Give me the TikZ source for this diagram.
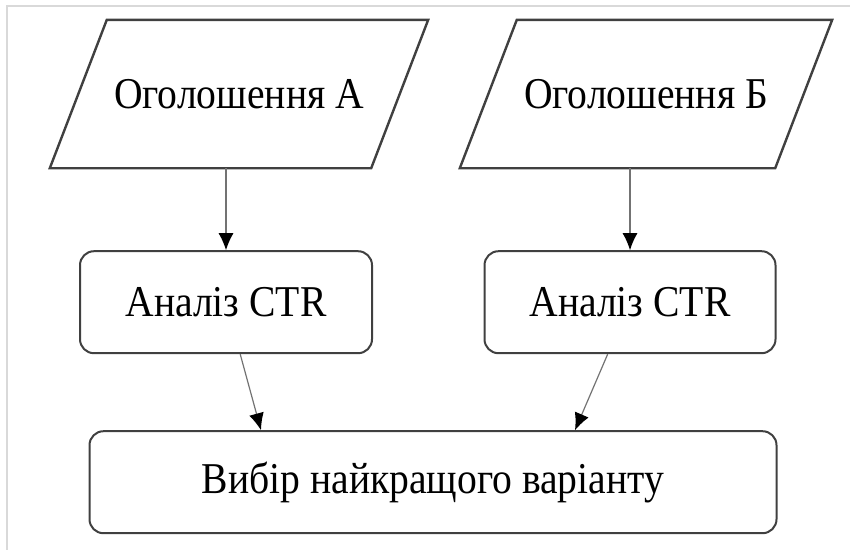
\documentclass[tikz,border=0pt]{standalone}
\usepackage{fontspec}
\setmainfont{Liberation Serif}[FakeStretch=0.9]
\usepackage{tikz}
\usetikzlibrary{shapes.geometric, arrows.meta, positioning}
\tikzstyle{io} = [rectangle, minimum height=148pt, font=\fontsize{44}{48}\selectfont]
\tikzstyle{ioline} = [draw=black!75, line width=2.4pt, line join=miter]
\tikzstyle{block} = [rectangle, rounded corners=14pt, minimum height=102pt, draw=black!75, line width=2pt, fill=white, font=\fontsize{44}{48}\selectfont]
\tikzstyle{arrow} = [black!55, line width=1.2pt, -{Latex[black, length=17pt, width=15pt]}]

\begin{document}
\begin{tikzpicture}[x=1pt, y=1pt]
        \useasboundingbox (0,0) rectangle (850,-550);
        \draw [black!15, line width=1.5pt] (850,-6) -- (7,-6) -- (7,-550);

        \node (parA) [io, minimum width=321pt] at (239,-94) {
            Оголошення А
        };
        \draw [ioline] ([xshift=28.5pt]parA.north west) -- ([xshift=28.5pt]parA.north east)
            -- ([xshift=-28.5pt]parA.south east) -- ([xshift=-28.5pt]parA.south west) -- cycle;

        \node (parB) [io, minimum width=315pt] at (646,-94) {
            Оголошення Б
        };
        \draw [ioline] ([xshift=28.5pt]parB.north west) -- ([xshift=28.5pt]parB.north east)
            -- ([xshift=-28.5pt]parB.south east) -- ([xshift=-28.5pt]parB.south west) -- cycle;

        \node (ctrA) [block, minimum width=292pt, below=82pt of parA, xshift=-13pt] {
            Аналіз CTR
        };

        \node (ctrB) [block, minimum width=291pt, below=82pt of parB, xshift=-16pt] {
            Аналіз CTR
        };

        \node (final) [block, minimum width=687pt, below=76pt of ctrA, xshift=207pt] {
            Вибір найкращого варіанту
        };

        \draw [arrow] (ctrA.north |- parA.south) -- (ctrA);
        \draw [arrow] (ctrB.north |- parB.south) -- (ctrB);
        \draw [arrow] (ctrA) -- ([xshift=-172pt]final.north);
        \draw [arrow] (ctrB) -- ([xshift=142pt]final.north);
    \end{tikzpicture}
\end{document}
